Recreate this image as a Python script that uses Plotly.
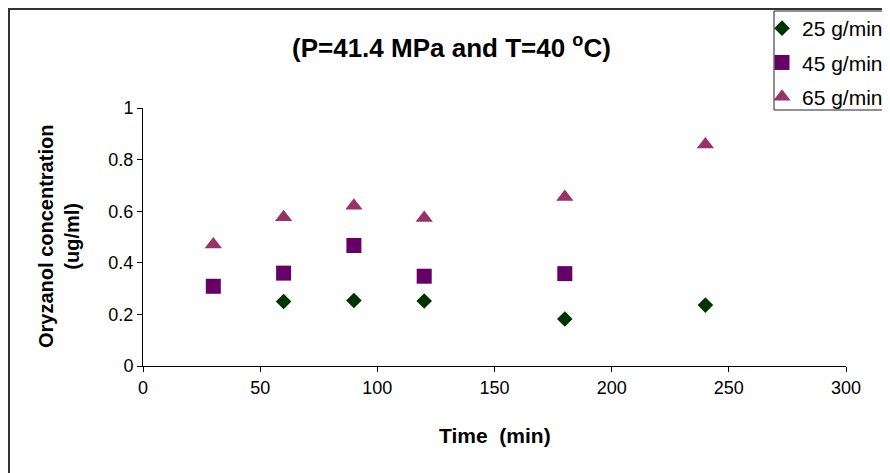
import plotly.graph_objects as go

time_25 = [60, 90, 120, 180, 240]
conc_25 = [0.250, 0.254, 0.252, 0.182, 0.236]
time_45 = [30, 60, 90, 120, 180]
conc_45 = [0.309, 0.360, 0.467, 0.348, 0.358]
time_65 = [30, 60, 90, 120, 180, 240]
conc_65 = [0.471, 0.577, 0.621, 0.574, 0.655, 0.859]

names = ["25 g/min", "45 g/min", "65 g/min"]
x_ticks = [0, 50, 100, 150, 200, 250, 300]
y_ticks = [0, 0.2, 0.4, 0.6, 0.8, 1]
y_ticktext = ["0", "0.2", "0.4", "0.6", "0.8", "1"]
FONT = "Liberation Sans, Arial, sans-serif"

fig = go.Figure()
fig.add_trace(go.Scatter(x=time_25, y=conc_25, mode="markers", name=names[0], legendgroup="a",
                         marker=dict(symbol="diamond", size=12, color="#003300")))
fig.add_trace(go.Scatter(x=time_45, y=conc_45, mode="markers", name=names[1], legendgroup="b",
                         marker=dict(symbol="square", size=15, color="#660066")))
fig.add_trace(go.Scatter(x=time_65, y=conc_65, mode="markers", name=names[2], legendgroup="c",
                         marker=dict(symbol="triangle-up", size=15, color="#993366")))

OFF = 8  # page body margin
W, H = 890 - OFF, 473 - OFF
L, R, T, B = 143 - OFF, 44, 108 - OFF, 107
pw, ph = W - L - R, H - T - B

def px(xs):
    return (xs - OFF - L) / pw

def py(ys):
    return (H - B - (ys - OFF)) / ph

fig.update_layout(
    width=W, height=H,
    margin=dict(l=L, r=R, t=T, b=B, autoexpand=False),
    paper_bgcolor="white", plot_bgcolor="white",
    font=dict(family=FONT, size=18, color="black"),
    showlegend=True,
    legend=dict(xref="container", yref="container",
                x=(762 - OFF) / W, y=1 + 2 / H, xanchor="left", yanchor="top",
                borderwidth=0, bgcolor="rgba(0,0,0,0)",
                font=dict(size=21, family=FONT), traceorder="grouped",
                tracegroupgap=4, itemwidth=30),
    xaxis=dict(range=[0, 300], tickvals=x_ticks, automargin=False,
               showgrid=False, zeroline=False, showline=True, linecolor="black", linewidth=1,
               ticks="outside", ticklen=5, tickcolor="black", tickfont=dict(size=18)),
    yaxis=dict(range=[0, 1], tickvals=y_ticks, ticktext=y_ticktext, automargin=False,
               showgrid=False, zeroline=False, showline=True, linecolor="black", linewidth=1,
               ticks="outside", ticklen=5, tickcolor="black", tickfont=dict(size=18)),
    shapes=[
        dict(type="rect", xref="paper", yref="paper",
             x0=px(9), x1=px(900), y0=py(490), y1=py(9),
             line=dict(color="#333333", width=2), fillcolor="rgba(0,0,0,0)", layer="below"),
        dict(type="rect", xref="paper", yref="paper",
             x0=px(774), x1=px(900), y0=py(110), y1=py(11),
             line=dict(color="#222222", width=1), fillcolor="white", layer="below"),
    ],
    annotations=[
        dict(text="<b>(P=41.4 MPa and T=40 <sup>o</sup>C)</b>", x=px(451), y=py(46),
             xref="paper", yref="paper", showarrow=False, font=dict(size=26, family=FONT),
             xanchor="center", yanchor="middle"),
        dict(text="<b>Oryzanol concentration<br>(ug/ml)</b>", x=px(59), y=py(237),
             xref="paper", yref="paper", showarrow=False, textangle=-90,
             font=dict(size=20, family=FONT), xanchor="center", yanchor="middle"),
        dict(text="<b>Time&nbsp; (min)</b>", x=px(495), y=py(435),
             xref="paper", yref="paper", showarrow=False,
             font=dict(size=21, family=FONT), xanchor="center", yanchor="middle"),
    ],
)

fig.write_html("out.html")
